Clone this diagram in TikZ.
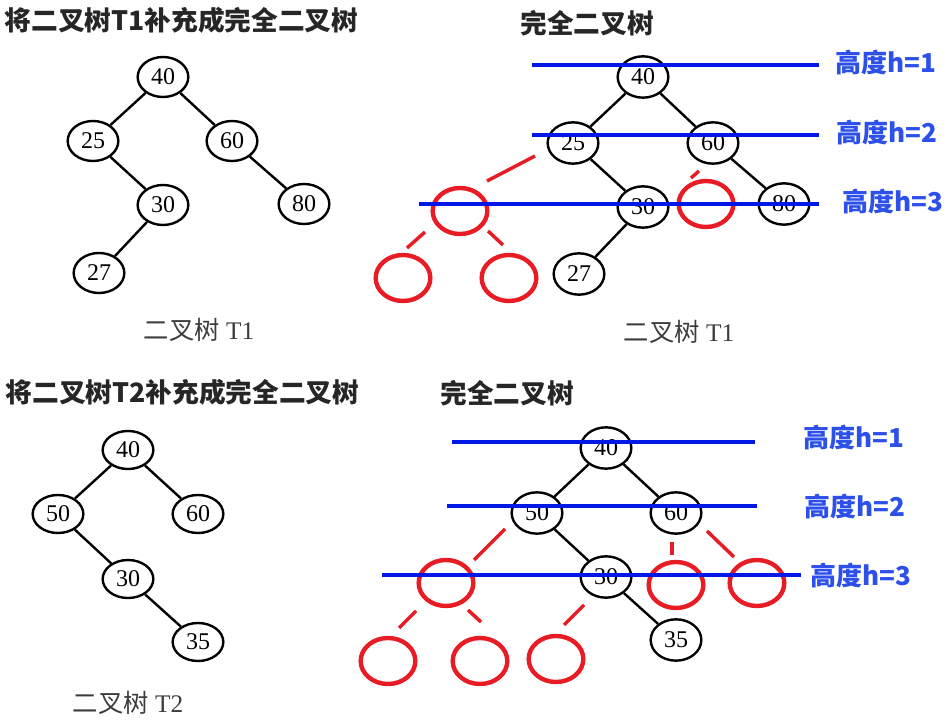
\documentclass[tikz,border=0pt]{standalone}
\usepackage{fontspec}
\setmainfont{Liberation Serif}
\newfontfamily\cjk{Noto Sans CJK SC}
\usetikzlibrary{shapes.geometric,calc}
\definecolor{tred}{RGB}{232,28,36}
\definecolor{tblue}{RGB}{0,24,230}
\definecolor{lblue}{RGB}{45,80,235}
\definecolor{ttl}{RGB}{38,38,38}
\definecolor{capc}{RGB}{60,60,60}
\tikzset{
  tnode/.style={ellipse, draw=black, line width=1.8pt, fill=white, inner sep=0pt,
    minimum width=38pt, minimum height=30pt, font=\fontsize{18}{18}\selectfont},
  lownode/.style={tnode, minimum height=28.5pt},
  hinode/.style={tnode, minimum height=31pt},
  hole/.style={ellipse, draw=tred, line width=3.3pt, minimum width=41pt, minimum height=34.5pt, inner sep=0pt},
  tedge/.style={line width=1.8pt},
  tick/.style={draw=tred, line width=2.6pt},
  hline/.style={draw=tblue, line width=2.8pt},
  hlabel/.style={font=\cjk\bfseries\fontsize{19.5}{19.5}\selectfont, text=lblue, inner sep=0pt},
  ttlstyle/.style={font=\cjk\bfseries\fontsize{20}{20}\selectfont, text=ttl, inner sep=0pt},
  capstyle/.style={font=\fontsize{19}{19}\selectfont, text=capc, inner sep=0pt}
}
\begin{document}
\begin{tikzpicture}[x=0.75pt,y=-0.75pt]
\useasboundingbox (0,0) rectangle (951,723);

% ---------- top-left: T1 ----------
\node[ttlstyle] (title1) at (181.5,20) {将二叉树T1补充成完全二叉树};
\node[tnode] (a40) at (163,77) {40};
\node[tnode] (a25) at (93,141) {25};
\node[tnode] (a60) at (232,141) {60};
\node[tnode] (a30) at (163,205) {30};
\node[tnode] (a80) at (304,204) {80};
\node[tnode] (a27) at (99,273) {27};
\draw[tedge] (a40) -- (a25);
\draw[tedge] (a40) -- (a60);
\draw[tedge] (a25) -- (a30);
\draw[tedge] (a60) -- (a80);
\draw[tedge] (a30) -- (a27);
\node[capstyle] (cap1) at (199,330) {{\cjk 二叉树} T1};

% ---------- top-right: complete T1 ----------
\node[ttlstyle] (title2) at (587,23) {完全二叉树};
\node[hinode] (b40) at (643,77) {40};
\node[hinode] (b25) at (573,143) {25};
\node[hinode] (b60) at (713,143) {60};
\node[hinode] (b30) at (643,207) {30};
\node[hinode] (b80) at (784,204) {80};
\node[hinode] (b27) at (579,274) {27};
\draw[tedge] (b40) -- (b25);
\draw[tedge] (b40) -- (b60);
\draw[tedge] (b25) -- (b30);
\draw[tedge] (b60) -- (b80);
\draw[tedge] (b30) -- (b27);
\node[capstyle] (cap2) at (679,332) {{\cjk 二叉树} T1};
\node[hole] (r1) at (460,211) {};
\node[hole] (r2) at (706,204) {};
\node[hole] (r3) at (403,278) {};
\node[hole] (r4) at (509,278) {};
\draw[tick] ($(b25)+(-38,13)$) -- ($(b25)+(-86,38)$);
\draw[tick] ($(r2)+(-7,-33)$) -- ($(r2)+(-15,-26)$);
\draw[tick] ($(r1)+(-35,21)$) -- ($(r1)+(-53,37)$);
\draw[tick] ($(r1)+(28,20)$) -- ($(r1)+(43,34)$);
\coordinate (u1a) at (532,65);  \coordinate (u1b) at (819,65);
\coordinate (u2a) at (532,135); \coordinate (u2b) at (819,135);
\coordinate (u3a) at (419,204); \coordinate (u3b) at (819,204);
\draw[hline] (u1a) -- (u1b);
\draw[hline] (u2a) -- (u2b);
\draw[hline] (u3a) -- (u3b);
\node[hlabel] (lu1) at (885.5,63) {高度h=1};
\node[hlabel] (lu2) at (887,133) {高度h=2};
\node[hlabel] (lu3) at (892.5,202) {高度h=3};

% ---------- bottom-left: T2 ----------
\node[ttlstyle] (title3) at (182.5,392) {将二叉树T2补充成完全二叉树};
\node[lownode] (c40) at (128,450) {40};
\node[lownode] (c50) at (58,514) {50};
\node[lownode] (c60) at (198,514) {60};
\node[lownode] (c30) at (128,579) {30};
\node[lownode] (c35) at (198,642) {35};
\draw[tedge] (c40) -- (c50);
\draw[tedge] (c40) -- (c60);
\draw[tedge] (c50) -- (c30);
\draw[tedge] (c30) -- (c35);
\node[capstyle] (cap3) at (128,703) {{\cjk 二叉树} T2};

% ---------- bottom-right: complete T2 ----------
\node[ttlstyle] (title4) at (507,393) {完全二叉树};
\node[hinode] (d40) at (606,448) {40};
\node[hinode] (d50) at (537,513) {50};
\node[hinode] (d60) at (676,513) {60};
\node[hinode] (d30) at (606,577) {30};
\node[hinode] (d35) at (676,640) {35};
\draw[tedge] (d40) -- (d50);
\draw[tedge] (d40) -- (d60);
\draw[tedge] (d50) -- (d30);
\draw[tedge] (d30) -- (d35);
\node[hole] (s1) at (446,583) {};
\node[hole] (s2) at (676,585) {};
\node[hole] (s3) at (757,583) {};
\node[hole] (s4) at (388,661) {};
\node[hole] (s5) at (480,661) {};
\node[hole] (s6) at (556,659) {};
\draw[tick] ($(d50)+(-32,16)$) -- ($(d50)+(-63,47)$);
\draw[tick] ($(d60)+(-4,29)$) -- ($(d60)+(-4,42)$);
\draw[tick] ($(d60)+(31,18)$) -- ($(d60)+(58,44)$);
\draw[tick] ($(s1)+(-30,28)$) -- ($(s1)+(-47,45)$);
\draw[tick] ($(s1)+(22,27)$) -- ($(s1)+(35,39)$);
\draw[tick] ($(d30)+(-22,28)$) -- ($(d30)+(-42,48)$);
\coordinate (v1a) at (452,442); \coordinate (v1b) at (755,442);
\coordinate (v2a) at (447,506); \coordinate (v2b) at (757,506);
\coordinate (v3a) at (382,575); \coordinate (v3b) at (801,575);
\draw[hline] (v1a) -- (v1b);
\draw[hline] (v2a) -- (v2b);
\draw[hline] (v3a) -- (v3b);
\node[hlabel] (lv1) at (854,438) {高度h=1};
\node[hlabel] (lv2) at (855,507) {高度h=2};
\node[hlabel] (lv3) at (860.5,576) {高度h=3};
\end{tikzpicture}
\end{document}
